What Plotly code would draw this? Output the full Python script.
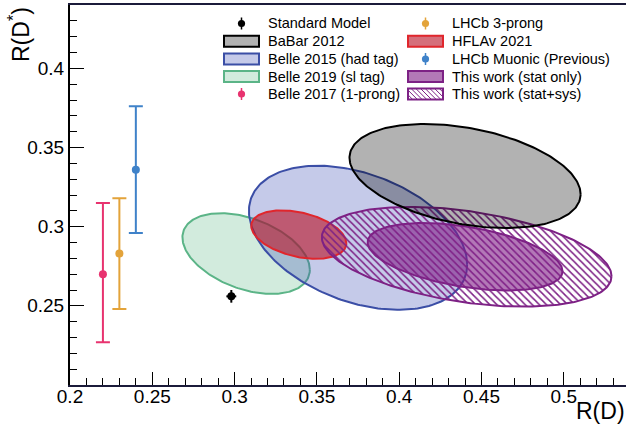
import numpy as np
import plotly.graph_objects as go

# ---------------- data ----------------
# Ellipses (Delta chi2 = 1 contours): centre, sigma, correlation
ell_names = ["Belle 2019 (sl tag)", "Belle 2015 (had tag)", "HFLAv 2021",
             "This work (stat+sys)", "This work (stat only)", "BaBar 2012"]
ell_rd = [0.307, 0.375, 0.339, 0.441, 0.440, 0.440]
ell_rds = [0.283, 0.293, 0.295, 0.281, 0.281, 0.332]
ell_sig_rd = [0.0387, 0.0663, 0.0289, 0.0880, 0.0592, 0.0702]
ell_sig_rds = [0.0255, 0.0455, 0.0153, 0.0315, 0.0213, 0.0329]
ell_rho = [-0.40, -0.37, -0.36, -0.39, -0.43, -0.35]

# R(D*)-only measurements (plotted at arbitrary R(D))
pt_names = ["Belle 2017 (1-prong)", "LHCb 3-prong", "LHCb Muonic (Previous)"]
pt_rd = [0.220, 0.230, 0.240]
pt_rds = [0.270, 0.283, 0.336]
pt_err_up = [0.045, 0.035, 0.040]
pt_err_dn = [0.043, 0.035, 0.040]

# Standard Model prediction
sm_rd, sm_rds = 0.298, 0.256
sm_err_rd, sm_err_rds = 0.003, 0.004

x_ticks = [0.2, 0.25, 0.3, 0.35, 0.4, 0.45, 0.5]
x_labels = ["0.2", "0.25", "0.3", "0.35", "0.4", "0.45", "0.5"]
y_ticks = [0.25, 0.3, 0.35, 0.4]
y_labels = ["0.25", "0.3", "0.35", "0.4"]

# ---------------- styles ----------------
FONT = "Liberation Sans"
ell_line = ["#5bb487", "#3b4ea6", "#e0262c", "#7d2185", "#7d2185", "#000000"]
ell_fill = ["rgba(60,170,110,0.23)", "rgba(63,81,181,0.30)", "rgba(185,15,35,0.60)",
            "rgba(0,0,0,0)", "rgba(128,30,135,0.60)", "rgba(0,0,0,0.30)"]
pt_colors = ["#e8336f", "#e3a33a", "#3f82c9"]

W, H = 626, 429
ML, MR, MT, MB = 70, 0, 5, 44
PW, PH = W - ML - MR, H - MT - MB
XR = [0.2, 0.2 + PW / 1646.0]
YR = [0.2, 0.44]

fig = go.Figure()

t = np.linspace(0, 2 * np.pi, 241)
for i in range(len(ell_names)):
    r = ell_rho[i]
    xs = ell_rd[i] + ell_sig_rd[i] * np.cos(t)
    ys = ell_rds[i] + ell_sig_rds[i] * (r * np.cos(t) + np.sqrt(1 - r * r) * np.sin(t))
    kw = {}
    if "stat+sys" in ell_names[i]:
        kw["fillpattern"] = dict(shape="\\", fgcolor=ell_line[i], bgcolor="rgba(0,0,0,0)",
                                 size=5, solidity=0.3, fgopacity=1)
    fig.add_trace(go.Scatter(x=xs, y=ys, mode="lines", fill="toself",
                             fillcolor=ell_fill[i], line=dict(color=ell_line[i], width=2),
                             name=ell_names[i], showlegend=False, hoverinfo="skip", **kw))

for i in range(len(pt_names)):
    fig.add_trace(go.Scatter(
        x=[pt_rd[i]], y=[pt_rds[i]], mode="markers",
        marker=dict(color=pt_colors[i], size=8),
        error_y=dict(type="data", symmetric=False, array=[pt_err_up[i]],
                     arrayminus=[pt_err_dn[i]], color=pt_colors[i], thickness=2, width=7),
        name=pt_names[i], showlegend=False))

fig.add_trace(go.Scatter(
    x=[sm_rd], y=[sm_rds], mode="markers", marker=dict(color="black", size=8),
    error_x=dict(type="data", array=[sm_err_rd], color="black", thickness=2, width=0),
    error_y=dict(type="data", array=[sm_err_rds], color="black", thickness=2, width=0),
    name="Standard Model", showlegend=False))

# ---------------- hand-drawn legend ----------------
def px(x):
    return (x - ML) / PW

def py(y):
    return (MT + PH - y) / PH

shapes = []
annotations = []
rows = [23.5, 41.3, 59.0, 76.6, 94.0]
col_box = [(224, 259), (408, 443)]
col_txt = [266, 450]

legend_items = [
    (0, 0, "Standard Model", ("marker", "black")),
    (0, 1, "BaBar 2012", ("box", ell_line[5], ell_fill[5])),
    (0, 2, "Belle 2015 (had tag)", ("box", ell_line[1], ell_fill[1])),
    (0, 3, "Belle 2019 (sl tag)", ("box", ell_line[0], ell_fill[0])),
    (0, 4, "Belle 2017 (1-prong)", ("marker", pt_colors[0])),
    (1, 0, "LHCb 3-prong", ("marker", pt_colors[1])),
    (1, 1, "HFLAv 2021", ("box", ell_line[2], ell_fill[2])),
    (1, 2, "LHCb Muonic (Previous)", ("marker", pt_colors[2])),
    (1, 3, "This work (stat only)", ("box", ell_line[4], ell_fill[4])),
    (1, 4, "This work (stat+sys)", ("hatch", ell_line[3])),
]

for col, row, label, sym in legend_items:
    yc = rows[row]
    x0, x1 = col_box[col]
    xc = 0.5 * (x0 + x1)
    if sym[0] == "marker":
        c = sym[1]
        shapes.append(dict(type="line", xref="paper", yref="paper", x0=px(xc), x1=px(xc),
                           y0=py(yc - 6), y1=py(yc + 6), line=dict(color=c, width=1.5)))
        shapes.append(dict(type="circle", xref="paper", yref="paper",
                           x0=px(xc - 3.6), x1=px(xc + 3.6), y0=py(yc - 3.6), y1=py(yc + 3.6),
                           fillcolor=c, line=dict(color=c, width=0)))
    elif sym[0] == "box":
        shapes.append(dict(type="rect", xref="paper", yref="paper", x0=px(x0), x1=px(x1),
                           y0=py(yc - 5.5), y1=py(yc + 5.5), fillcolor=sym[2],
                           line=dict(color=sym[1], width=2)))
    else:
        c = sym[1]
        yt, yb = yc - 5.5, yc + 5.5
        segs = []
        step = 4.7
        cval = x0 - (yb - yt)
        while cval < x1:
            xa, ya = cval, yt
            xb, yb2 = cval + (yb - yt), yb
            if xa < x0:
                ya = yt + (x0 - xa); xa = x0
            if xb > x1:
                yb2 = yb - (xb - x1); xb = x1
            if xb > xa:
                segs.append("M%.5f,%.5f L%.5f,%.5f" % (px(xa), py(ya), px(xb), py(yb2)))
            cval += step
        shapes.append(dict(type="path", xref="paper", yref="paper", path=" ".join(segs),
                           line=dict(color=c, width=1)))
        shapes.append(dict(type="rect", xref="paper", yref="paper", x0=px(x0), x1=px(x1),
                           y0=py(yt), y1=py(yb), line=dict(color=c, width=2)))
    annotations.append(dict(x=px(col_txt[col]), y=py(yc), xref="paper", yref="paper",
                            text=label, showarrow=False, xanchor="left", yanchor="middle",
                            font=dict(family=FONT, size=14.5, color="black")))

# axis titles
annotations.append(dict(x=px(19), y=py(35), xref="paper", yref="paper",
                        text="R(D<sup>*</sup>)", textangle=-90, showarrow=False,
                        xanchor="center", yanchor="middle",
                        font=dict(family=FONT, size=23, color="black")))
annotations.append(dict(x=px(627), y=py(411), xref="paper", yref="paper",
                        text="R(D)", showarrow=False, xanchor="right", yanchor="middle",
                        font=dict(family=FONT, size=23, color="black")))

fig.update_layout(
    width=W, height=H, margin=dict(l=ML, r=MR, t=MT, b=MB),
    paper_bgcolor="white", plot_bgcolor="white",
    shapes=shapes, annotations=annotations, showlegend=False,
    xaxis=dict(range=XR, tickvals=x_ticks, ticktext=x_labels, ticks="inside",
               ticklen=13, tickwidth=1.3, tickcolor="black", showgrid=False,
               zeroline=False, showline=True, linecolor="#1b1b3a", linewidth=2,
               mirror=True, tickfont=dict(family=FONT, size=19, color="black"),
               ticklabelstandoff=-7,
               minor=dict(dtick=0.01, tick0=0.2, ticks="inside", ticklen=7,
                          tickwidth=1.2, tickcolor="black", showgrid=False)),
    yaxis=dict(range=YR, tickvals=y_ticks, ticktext=y_labels, ticks="inside",
               ticklen=14, tickwidth=1.3, tickcolor="black", showgrid=False,
               zeroline=False, showline=True, linecolor="black", linewidth=2,
               mirror=False, tickfont=dict(family=FONT, size=19, color="black"),
               minor=dict(dtick=0.01, tick0=0.2, ticks="inside", ticklen=7,
                          tickwidth=1.2, tickcolor="black", showgrid=False)),
)

fig.write_html("out.html", config={"displayModeBar": False},
               post_script="document.body.style.margin='0';document.body.style.overflow='hidden';")
